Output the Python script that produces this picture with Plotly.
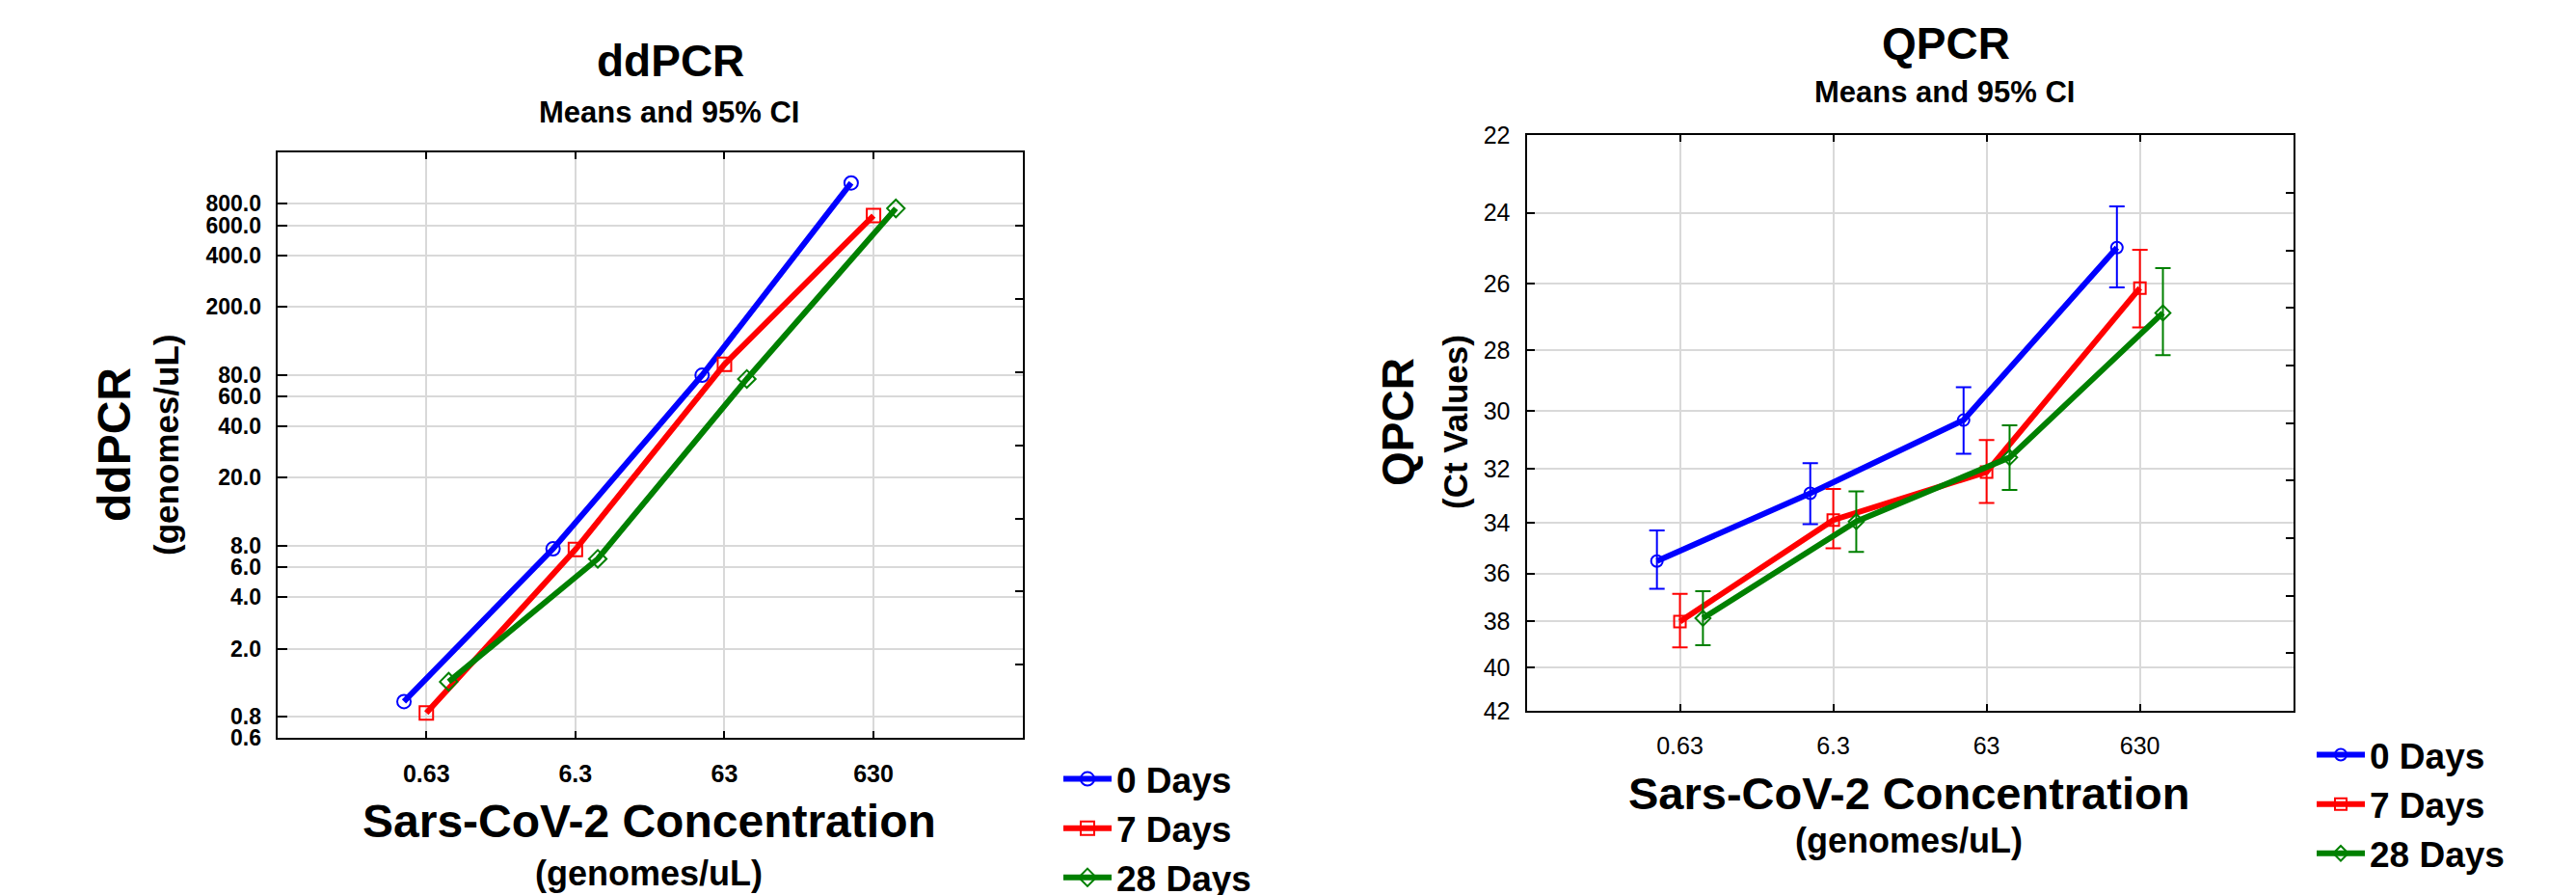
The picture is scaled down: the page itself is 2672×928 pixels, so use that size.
import numpy as np
import plotly.graph_objects as go

W, H = 2672, 928
FONT = "Liberation Sans, Arial, sans-serif"

# ---------------- data ----------------
categories = ["0.63", "6.3", "63", "630"]
series_names = ["0 Days", "7 Days", "28 Days"]
colors = ["#0000ff", "#ff0000", "#008000"]

# ddPCR means (genomes/uL)
dd_0 = [0.98, 7.67, 79.5, 1060]
dd_7 = [0.84, 7.6, 92, 683]
dd_28 = [1.28, 6.7, 75.6, 752]

dd_ticks = [0.6, 0.8, 2, 4, 6, 8, 20, 40, 60, 80, 200, 400, 600, 800]
dd_ticktext = ["0.6", "0.8", "2.0", "4.0", "6.0", "8.0", "20.0", "40.0", "60.0",
               "80.0", "200.0", "400.0", "600.0", "800.0"]

# QPCR means and 95% CI (Ct values)
q_0 = [35.5, 32.9, 30.3, 24.96]
q_0_lo = [34.3, 31.8, 29.2, 23.83]
q_0_hi = [36.63, 34.06, 31.47, 26.1]
q_7 = [38.0, 33.9, 32.12, 26.12]
q_7_lo = [36.83, 32.74, 30.99, 25.02]
q_7_hi = [39.12, 35.0, 33.26, 27.3]
q_28 = [37.86, 33.96, 31.6, 26.86]
q_28_lo = [36.73, 32.83, 30.48, 25.54]
q_28_hi = [39.02, 35.14, 32.77, 28.17]

q_ticks = [22, 24, 26, 28, 30, 32, 34, 36, 38, 40, 42]

# ---------------- style ----------------
offsets = [-0.15, 0.0, 0.15]
symbols = ["circle-open", "square-open", "diamond-open"]
xpos = np.arange(len(categories), dtype=float)


def px_x(p):
    return p / W


def px_y(p):
    return 1 - p / H


fig = go.Figure()

dd_series = [dd_0, dd_7, dd_28]
for name, vals, col, sym, off in zip(series_names, dd_series, colors, symbols, offsets):
    fig.add_trace(go.Scatter(
        x=xpos + off, y=vals, mode="lines+markers", name=name,
        line=dict(color=col, width=6),
        marker=dict(symbol=sym, size=14, color=col, line=dict(color=col, width=2)),
        xaxis="x", yaxis="y", legend="legend",
    ))

q_series = [(q_0, q_0_lo, q_0_hi), (q_7, q_7_lo, q_7_hi), (q_28, q_28_lo, q_28_hi)]
for name, (m, lo, hi), col, sym, off in zip(series_names, q_series, colors, symbols, offsets):
    m = np.array(m); lo = np.array(lo); hi = np.array(hi)
    fig.add_trace(go.Scatter(
        x=xpos + off, y=m, mode="lines+markers", name=name,
        line=dict(color=col, width=6),
        marker=dict(symbol=sym, size=12, color=col, line=dict(color=col, width=2)),
        error_y=dict(type="data", symmetric=False, array=hi - m, arrayminus=m - lo,
                     color=col, thickness=2, width=8),
        xaxis="x2", yaxis="y2", legend="legend2",
    ))

# empty traces for right-border tick axes
fig.add_trace(go.Scatter(x=[None], y=[None], xaxis="x", yaxis="y3", showlegend=False, hoverinfo="skip"))
fig.add_trace(go.Scatter(x=[None], y=[None], xaxis="x2", yaxis="y4", showlegend=False, hoverinfo="skip"))

L_dom_x = [px_x(287.6), px_x(1060.7)]
L_dom_y = [px_y(765.2), px_y(158)]
R_dom_x = [px_x(1583.5), px_x(2378.7)]
R_dom_y = [px_y(736.8), px_y(140.3)]

grid = "#d9d9d9"
common_x = dict(range=[-1, 4], tickvals=list(xpos), ticktext=categories, showgrid=True,
                gridcolor=grid, gridwidth=2, showline=True, linecolor="black", linewidth=2,
                mirror="ticks", ticks="inside", ticklen=7, tickwidth=2, tickcolor="black",
                zeroline=False, automargin=False)

fig.update_layout(
    width=W, height=H, autosize=False,
    margin=dict(l=0, r=0, t=0, b=0, pad=0, autoexpand=False),
    paper_bgcolor="white", plot_bgcolor="white",
    font=dict(family=FONT, color="black"),
    showlegend=True,
    xaxis=dict(domain=L_dom_x, anchor="y", **common_x,
               tickfont=dict(size=25, weight="bold"), ticklabelstandoff=14),
    yaxis=dict(domain=L_dom_y, anchor="x", type="log",
               range=[np.log10(0.6), np.log10(1600)],
               tickvals=dd_ticks, ticktext=dd_ticktext,
               showgrid=True, gridcolor=grid, gridwidth=2,
               showline=True, linecolor="black", linewidth=2, mirror=True,
               ticks="inside", ticklen=10, tickwidth=2, tickcolor="black",
               tickfont=dict(size=23, weight="bold"), ticklabelstandoff=10,
               zeroline=False, automargin=False),
    yaxis3=dict(overlaying="y", side="right", anchor="x", range=[0, 8], dtick=1,
                showticklabels=False, showgrid=False, showline=False, zeroline=False,
                ticks="inside", ticklen=8, tickwidth=2, tickcolor="black", automargin=False),
    xaxis2=dict(domain=R_dom_x, anchor="y2", **common_x,
                tickfont=dict(size=25), ticklabelstandoff=13),
    yaxis2=dict(domain=R_dom_y, anchor="x2", type="log",
                range=[np.log10(42), np.log10(22)],
                tickvals=q_ticks, ticktext=[str(t) for t in q_ticks],
                showgrid=True, gridcolor=grid, gridwidth=2,
                showline=True, linecolor="black", linewidth=2, mirror=True,
                ticks="inside", ticklen=8, tickwidth=2, tickcolor="black",
                tickfont=dict(size=25), ticklabelstandoff=10, zeroline=False,
                automargin=False),
    yaxis4=dict(overlaying="y2", side="right", anchor="x2", range=[0, 10], dtick=1,
                showticklabels=False, showgrid=False, showline=False, zeroline=False,
                ticks="inside", ticklen=8, tickwidth=2, tickcolor="black", automargin=False),
    legend=dict(x=px_x(1098), y=px_y(777), xanchor="left", yanchor="top",
                font=dict(size=37, weight="bold", family=FONT), itemwidth=50,
                bgcolor="rgba(0,0,0,0)", tracegroupgap=0),
    legend2=dict(x=px_x(2398), y=px_y(752), xanchor="left", yanchor="top",
                 font=dict(size=37, weight="bold", family=FONT), itemwidth=50,
                 bgcolor="rgba(0,0,0,0)", tracegroupgap=0),
)


def ann(text, x, y, size, angle=0, bold=True):
    fig.add_annotation(text=text, x=px_x(x), y=px_y(y), xref="paper", yref="paper",
                       xanchor="center", yanchor="middle", showarrow=False,
                       textangle=angle,
                       font=dict(size=size, family=FONT, color="black",
                                 weight="bold" if bold else "normal"))


# left panel texts
ann("ddPCR", 695, 63, 46)
ann("Means and 95% CI", 694, 116, 31)
ann("ddPCR", 119, 461, 48, angle=-90)
ann("(genomes/uL)", 173, 462, 35, angle=-90)
ann("Sars-CoV-2 Concentration", 674, 851, 48)
ann("(genomes/uL)", 673, 905, 36)

# right panel texts
ann("QPCR", 2018, 45, 46)
ann("Means and 95% CI", 2017, 96, 31)
ann("QPCR", 1450, 438, 46, angle=-90)
ann("(Ct Values)", 1509, 438, 35, angle=-90)
ann("Sars-CoV-2 Concentration", 1980, 822, 47)
ann("(genomes/uL)", 1980, 871, 36)

fig.write_html("out.html", config={"displayModeBar": False},
               post_script="document.body.style.margin='0px';")
